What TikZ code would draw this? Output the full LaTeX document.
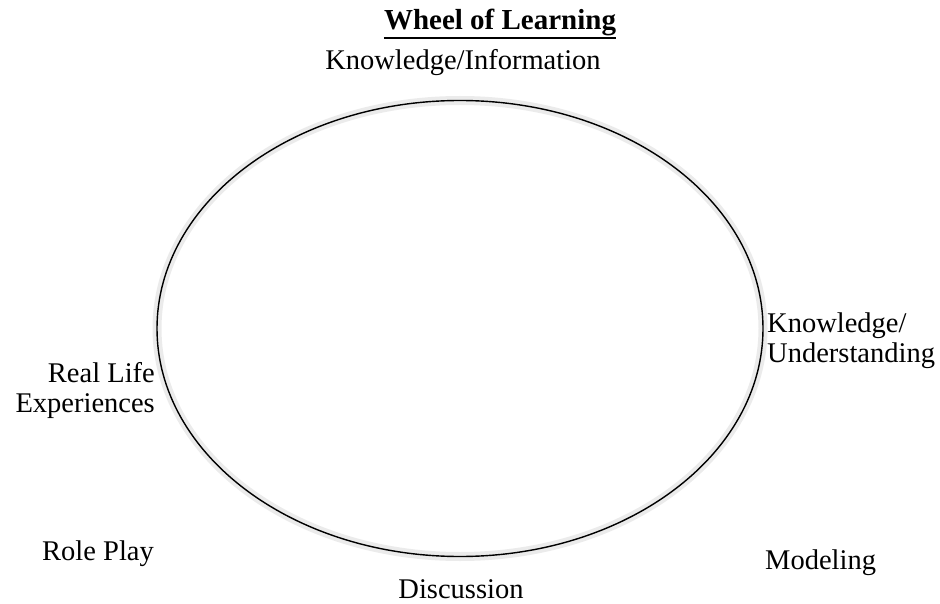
\documentclass[tikz,border=0pt]{standalone}
\usepackage{fontspec}
\setmainfont{Liberation Serif}
\tikzset{
  lbl/.style={inner sep=0pt, font=\fontsize{28.5}{30}\selectfont},
  wheelline/.style={draw=black, line width=1.4pt},
  halo/.style={draw=black!8, line width=9pt},
  uline/.style={draw=black, line width=2pt}
}
\begin{document}
\begin{tikzpicture}[x=1pt,y=-1pt]
\useasboundingbox (0,0) rectangle (940,604);
% halo and wheel
\draw[halo] (460,328.5) ellipse [x radius=303pt, y radius=228pt];
\draw[wheelline] (460,328.5) ellipse [x radius=303pt, y radius=228pt];
% title
\node[lbl, anchor=base, font=\fontsize{29}{31}\selectfont\bfseries] (title) at (500,30) {Wheel of Learning};
\draw[uline] ([yshift=-8.5pt]title.base west) -- ([yshift=-8.5pt]title.base east);
\node[lbl, anchor=base] (info) at (463,70) {Knowledge/Information};
\node[lbl, anchor=base west, align=left] (underst) at (767,362) {Knowledge/\\Understanding};
\node[lbl, anchor=base east, align=right] (real) at (155,412) {Real Life\\Experiences};
\node[lbl, anchor=base west] (role) at (42,560) {Role Play};
\node[lbl, anchor=base] (disc) at (461,598) {Discussion};
\node[lbl, anchor=base west] (model) at (765,569) {Modeling};
\end{tikzpicture}
\end{document}
